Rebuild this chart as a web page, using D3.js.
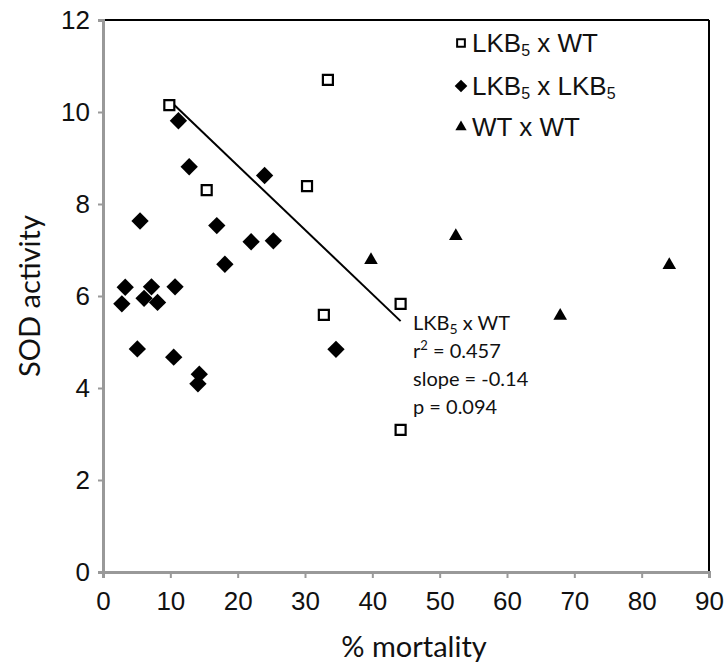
<!DOCTYPE html>
<html lang="en">
<head>
  <meta charset="UTF-8">
  <title>SOD activity vs % mortality</title>
  <script src="https://d3js.org/d3.v7.min.js"></script>
  <style>
    body { margin: 0; padding: 0; background: #fff; }
    .tick-label { font-family: "Liberation Sans", Arial, sans-serif; font-size: 26px; fill: #111; }
    .title { font-family: Lato, "Open Sans", sans-serif; font-size: 29px; fill: #111; }
    .legend-text { font-family: "Liberation Sans", Arial, sans-serif; font-size: 26px; fill: #111; }
    .note { font-family: Lato, "Open Sans", sans-serif; font-size: 20px; fill: #111; }
  </style>
</head>
<body>
  <div id="chart"></div>
  <script>
    // LKB5 x WT (open squares)
    const lkbWtX = [9.85, 33.4, 15.4, 30.3, 32.8, 44.2, 44.2];
    const lkbWtY = [10.15, 10.7, 8.3, 8.39, 5.59, 5.83, 3.09];

    // LKB5 x LKB5 (filled diamonds)
    const lkbLkbX = [11.2, 12.8, 24.0, 5.5, 16.9, 22.0, 25.3, 18.1, 3.3, 7.2, 10.7, 2.8, 6.1, 8.1, 5.1, 10.5, 14.3, 14.1, 34.6];
    const lkbLkbY = [9.81, 8.81, 8.62, 7.63, 7.53, 7.18, 7.2, 6.69, 6.19, 6.2, 6.2, 5.83, 5.95, 5.86, 4.85, 4.67, 4.3, 4.09, 4.84];

    // WT x WT (filled triangles)
    const wtWtX = [39.8, 52.4, 67.9, 84.1];
    const wtWtY = [6.78, 7.3, 5.57, 6.67];

    const xTicks = [0, 10, 20, 30, 40, 50, 60, 70, 80, 90];
    const yTicks = [0, 2, 4, 6, 8, 10, 12];

    const noteLines = ["LKB5 x WT", "r2 = 0.457", "slope = -0.14", "p = 0.094"];

    const width = 725, height = 664;
    const mLeft = 103, mRight = 709, mTop = 20, mBottom = 572;

    const svg = d3.select("#chart").append("svg")
      .attr("width", width)
      .attr("height", height);

    const x = d3.scaleLinear().domain([0, 90]).range([mLeft, mRight]);
    const y = d3.scaleLinear().domain([0, 12]).range([mBottom, mTop]);

    // frame: black top/right
    svg.append("line").attr("x1", mLeft).attr("x2", mRight).attr("y1", mTop).attr("y2", mTop)
      .attr("stroke", "#000").attr("stroke-width", 2);
    svg.append("line").attr("x1", mRight).attr("x2", mRight).attr("y1", mTop).attr("y2", mBottom)
      .attr("stroke", "#000").attr("stroke-width", 2);

    // axes
    const xAxis = svg.append("g").attr("transform", `translate(0,${mBottom})`)
      .call(d3.axisBottom(x).tickValues(xTicks).tickSize(6).tickPadding(14));
    const yAxis = svg.append("g").attr("transform", `translate(${mLeft},0)`)
      .call(d3.axisLeft(y).tickValues(yTicks).tickSize(5).tickPadding(8));

    [xAxis, yAxis].forEach(g => {
      g.attr("font-size", null).attr("font-family", null);
      g.select(".domain").attr("stroke", "#999").attr("stroke-width", 3);
      g.selectAll(".tick line").attr("stroke", "#999").attr("stroke-width", 2);
      g.selectAll(".tick text").attr("class", "tick-label");
    });

    // axis titles
    svg.append("text").attr("class", "title")
      .attr("x", x(45) + 8).attr("y", 657)
      .attr("text-anchor", "middle")
      .text("% mortality");
    svg.append("text").attr("class", "title")
      .attr("transform", `translate(40,${y(6)}) rotate(-90)`)
      .attr("text-anchor", "middle")
      .text("SOD activity");

    // regression line for LKB5 x WT
    const mx = d3.mean(lkbWtX), my = d3.mean(lkbWtY);
    const slope = d3.sum(lkbWtX, (v, i) => (v - mx) * (lkbWtY[i] - my)) /
                  d3.sum(lkbWtX, v => (v - mx) * (v - mx));
    const icpt = my - slope * mx;
    const [x0, x1] = d3.extent(lkbWtX);
    svg.append("line")
      .attr("x1", x(x0)).attr("y1", y(icpt + slope * x0))
      .attr("x2", x(x1)).attr("y2", y(icpt + slope * x1))
      .attr("stroke", "#000").attr("stroke-width", 2);

    const sq = d3.symbol().type(d3.symbolSquare);
    const tri = d3.symbol().type(d3.symbolTriangle);

    // diamonds
    svg.append("g").selectAll("path")
      .data(lkbLkbX.map((v, i) => [v, lkbLkbY[i]]))
      .join("path")
      .attr("d", sq.size(150)())
      .attr("transform", d => `translate(${x(d[0])},${y(d[1])}) rotate(45)`)
      .attr("fill", "#000");

    // open squares
    svg.append("g").selectAll("path")
      .data(lkbWtX.map((v, i) => [v, lkbWtY[i]]))
      .join("path")
      .attr("d", sq.size(100)())
      .attr("transform", d => `translate(${x(d[0])},${y(d[1])})`)
      .attr("fill", "#fff")
      .attr("stroke", "#000")
      .attr("stroke-width", 2.2);

    // triangles
    svg.append("g").selectAll("path")
      .data(wtWtX.map((v, i) => [v, wtWtY[i]]))
      .join("path")
      .attr("d", tri.size(80)())
      .attr("transform", d => `translate(${x(d[0])},${y(d[1])})`)
      .attr("fill", "#000");

    // annotation
    const note = svg.append("text").attr("class", "note");
    noteLines.forEach((t, i) => {
      const line = note.append("tspan").attr("x", 413).attr("y", 330 + i * 28);
      if (i === 0) {
        line.text("LKB");
        line.append("tspan").attr("font-size", "14px").attr("dy", 4).text("5");
        line.append("tspan").attr("dy", -4).text(" x WT");
      } else if (i === 1) {
        line.text("r");
        line.append("tspan").attr("font-size", "13px").attr("dy", -8).text("2");
        line.append("tspan").attr("dy", 8).text(" = 0.457");
      } else {
        line.text(t);
      }
    });

    // legend
    const legend = svg.append("g").attr("transform", "translate(461,0)");
    const legendRows = [
      { y: 43, name: ["LKB", "5", " x WT"] },
      { y: 86, name: ["LKB", "5", " x LKB", "5"] },
      { y: 127, name: ["WT x WT"] }
    ];
    legend.append("path").attr("d", sq.size(60)())
      .attr("transform", `translate(0,${legendRows[0].y})`)
      .attr("fill", "#fff").attr("stroke", "#000").attr("stroke-width", 2);
    legend.append("path").attr("d", sq.size(80)())
      .attr("transform", `translate(0,${legendRows[1].y}) rotate(45)`)
      .attr("fill", "#000");
    legend.append("path").attr("d", tri.size(55)())
      .attr("transform", `translate(0,${legendRows[2].y})`)
      .attr("fill", "#000");

    legendRows.forEach(r => {
      const t = legend.append("text").attr("class", "legend-text")
        .attr("x", 11).attr("y", r.y + 9);
      r.name.forEach((part, i) => {
        const sub = r.name.length > 1 && part === "5";
        t.append("tspan")
          .attr("font-size", sub ? "16px" : null)
          .attr("dy", sub ? 4 : (i > 0 ? -4 : 0))
          .text(part);
      });
    });
  </script>
</body>
</html>
